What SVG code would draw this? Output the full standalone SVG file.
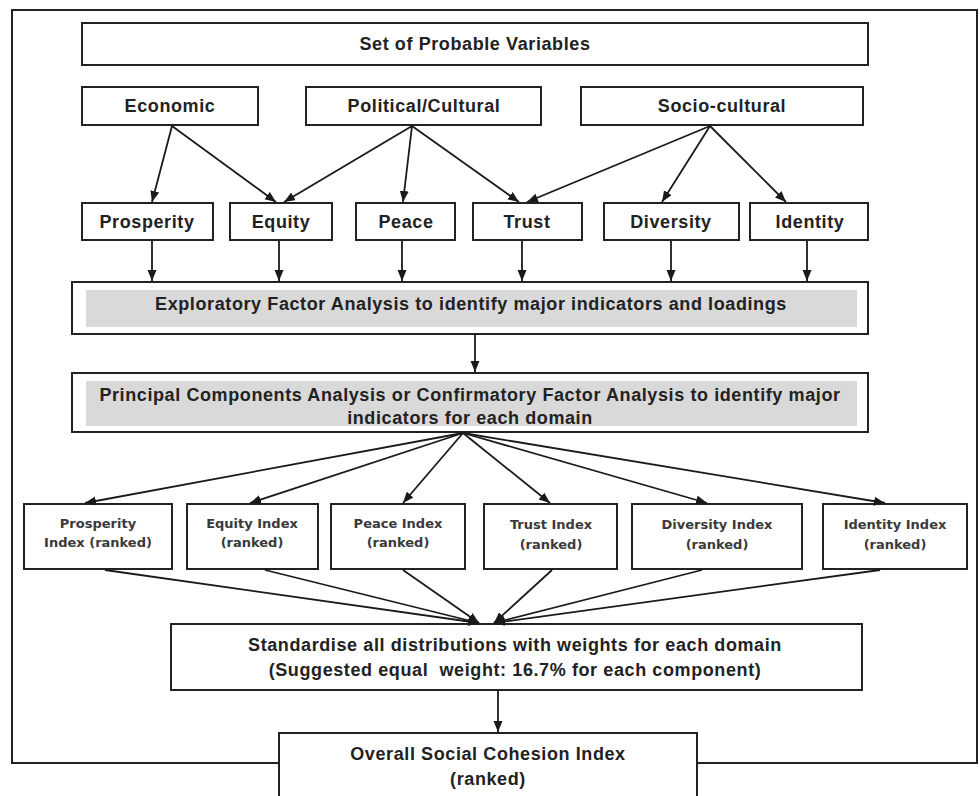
<svg xmlns="http://www.w3.org/2000/svg" width="980" height="796" viewBox="0 0 980 796">
<defs>
<marker id="ah" markerUnits="userSpaceOnUse" markerWidth="12" markerHeight="10" refX="11" refY="4.5" orient="auto">
<path d="M0,0 L11,4.5 L0,9 z" fill="#1a1a1a"/>
</marker>
<style>
.box{fill:#fff;stroke:#222;stroke-width:2}
.grey{fill:#d9d9d9;stroke:none}
.t{font-family:"Liberation Sans",Arial,sans-serif;font-weight:bold;font-size:18px;letter-spacing:0.6px;fill:#222;text-anchor:middle;dominant-baseline:central}
.s{font-family:"DejaVu Sans",sans-serif;font-weight:bold;font-size:13px;fill:#3a3a3a;text-anchor:middle;dominant-baseline:central}
.c{stroke:#1a1a1a;stroke-width:1.8;fill:none;marker-end:url(#ah)}
</style>
</defs>
<rect x="0" y="0" width="980" height="796" fill="#fff"/>
<rect id="frame" x="12" y="10" width="965" height="753" fill="none" stroke="#222" stroke-width="2"/>

<g id="n-set"><rect class="box" x="82" y="23" width="786" height="42"/><text class="t" x="475" y="44">Set of Probable Variables</text></g>
<g id="n-economic"><rect class="box" x="82" y="87" width="176" height="38"/><text class="t" x="170" y="106">Economic</text></g>
<g id="n-political"><rect class="box" x="306" y="87" width="235" height="38"/><text class="t" x="424" y="106">Political/Cultural</text></g>
<g id="n-socio"><rect class="box" x="581" y="87" width="282" height="38"/><text class="t" x="722" y="106">Socio-cultural</text></g>

<g id="n-prosperity"><rect class="box" x="82" y="203" width="131" height="37"/><text class="t" x="147" y="222">Prosperity</text></g>
<g id="n-equity"><rect class="box" x="230" y="203" width="102" height="37"/><text class="t" x="281" y="222">Equity</text></g>
<g id="n-peace"><rect class="box" x="356" y="203" width="99" height="37"/><text class="t" x="406" y="222">Peace</text></g>
<g id="n-trust"><rect class="box" x="473" y="203" width="109" height="37"/><text class="t" x="527" y="222">Trust</text></g>
<g id="n-diversity"><rect class="box" x="604" y="203" width="135" height="37"/><text class="t" x="671" y="222">Diversity</text></g>
<g id="n-identity"><rect class="box" x="750" y="203" width="118" height="37"/><text class="t" x="810" y="222">Identity</text></g>

<g id="n-efa"><rect class="box" x="72" y="282" width="796" height="52"/><rect class="grey" x="86" y="290" width="771" height="37"/><text class="t" x="471" y="304">Exploratory Factor Analysis to identify major indicators and loadings</text></g>

<g id="n-pca"><rect class="box" x="72" y="373" width="796" height="59"/><rect class="grey" x="86" y="381" width="771" height="45"/><text class="t" x="470" y="395">Principal Components Analysis or Confirmatory Factor Analysis to identify major</text><text class="t" x="470" y="418">indicators for each domain</text></g>

<g id="n-pi"><rect class="box" x="24" y="504" width="148" height="65"/><text class="s" x="98" y="523">Prosperity</text><text class="s" x="98" y="542">Index (ranked)</text></g>
<g id="n-ei"><rect class="box" x="187" y="504" width="131" height="65"/><text class="s" x="252" y="523">Equity Index</text><text class="s" x="252" y="542">(ranked)</text></g>
<g id="n-pei"><rect class="box" x="331" y="504" width="134" height="65"/><text class="s" x="398" y="523">Peace Index</text><text class="s" x="398" y="542">(ranked)</text></g>
<g id="n-ti"><rect class="box" x="484" y="504" width="133" height="65"/><text class="s" x="551" y="524">Trust Index</text><text class="s" x="551" y="544">(ranked)</text></g>
<g id="n-di"><rect class="box" x="632" y="504" width="170" height="65"/><text class="s" x="717" y="524">Diversity Index</text><text class="s" x="717" y="544">(ranked)</text></g>
<g id="n-ii"><rect class="box" x="823" y="504" width="144" height="65"/><text class="s" x="895" y="524">Identity Index</text><text class="s" x="895" y="544">(ranked)</text></g>

<g id="n-std"><rect class="box" x="171" y="624" width="691" height="66"/><text class="t" x="515" y="645">Standardise all distributions with weights for each domain</text><text class="t" x="515" y="670">(Suggested equal&#160; weight: 16.7% for each component)</text></g>

<g id="n-overall"><rect class="box" x="279" y="733" width="418" height="70"/><text class="t" x="488" y="754">Overall Social Cohesion Index</text><text class="t" x="488" y="779">(ranked)</text></g>

<g id="connectors">
<line class="c" x1="172" y1="126" x2="152" y2="202"/>
<line class="c" x1="172" y1="126" x2="276" y2="202"/>
<line class="c" x1="412" y1="126" x2="284" y2="202"/>
<line class="c" x1="412" y1="126" x2="403" y2="202"/>
<line class="c" x1="412" y1="126" x2="519" y2="202"/>
<line class="c" x1="710" y1="126" x2="527" y2="202"/>
<line class="c" x1="710" y1="126" x2="662" y2="202"/>
<line class="c" x1="710" y1="126" x2="786" y2="202"/>

<line class="c" x1="152" y1="241" x2="152" y2="281"/>
<line class="c" x1="279" y1="241" x2="279" y2="281"/>
<line class="c" x1="402" y1="241" x2="402" y2="281"/>
<line class="c" x1="522" y1="241" x2="522" y2="281"/>
<line class="c" x1="671" y1="241" x2="671" y2="281"/>
<line class="c" x1="807" y1="241" x2="807" y2="281"/>

<line class="c" x1="475" y1="335" x2="475" y2="372"/>

<line class="c" x1="463" y1="433" x2="85" y2="503"/>
<line class="c" x1="463" y1="433" x2="250" y2="503"/>
<line class="c" x1="463" y1="433" x2="403" y2="503"/>
<line class="c" x1="463" y1="433" x2="550" y2="503"/>
<line class="c" x1="463" y1="433" x2="707" y2="503"/>
<line class="c" x1="463" y1="433" x2="885" y2="503"/>

<line class="c" x1="105" y1="570" x2="479" y2="623"/>
<line class="c" x1="265" y1="570" x2="479" y2="623"/>
<line class="c" x1="403" y1="570" x2="479" y2="623"/>
<line class="c" x1="552" y1="570" x2="494" y2="623"/>
<line class="c" x1="702" y1="570" x2="494" y2="623"/>
<line class="c" x1="880" y1="570" x2="494" y2="623"/>

<line class="c" x1="498" y1="691" x2="498" y2="732"/>
</g>
</svg>
